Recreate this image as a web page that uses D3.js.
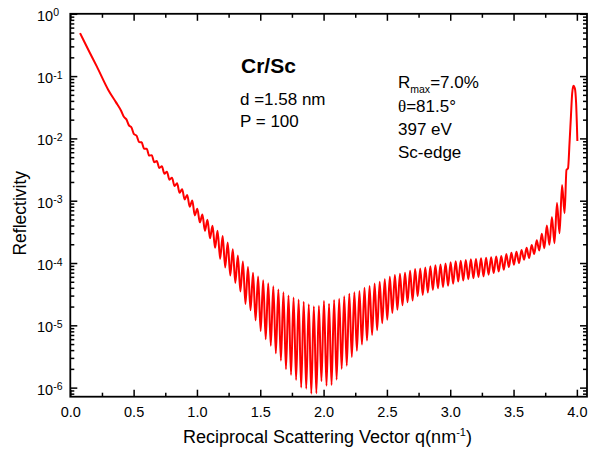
<!DOCTYPE html>
<html>
<head>
<meta charset="utf-8">
<script src="https://cdn.jsdelivr.net/npm/d3@7"></script>
<style>
  body { margin: 0; background: #fff; }
  svg { display: block; font-family: "Liberation Sans", Arial, sans-serif; }
</style>
</head>
<body>
<div id="chart"></div>
<script>
// smooth part before the fringes become visible
const leadQ = [0.077, 0.10, 0.15, 0.21, 0.30, 0.36];
const leadR = [0.49, 0.394, 0.246, 0.142, 0.060, 0.0382];

// Kiessig fringe maxima
const peakQ = [
  0.403, 0.443, 0.483, 0.523, 0.563, 0.603, 0.643, 0.683, 0.723, 0.763,
  0.803, 0.843, 0.883, 0.923, 0.963, 1.003, 1.043, 1.083, 1.123, 1.163,
  1.203, 1.243, 1.283, 1.323, 1.363, 1.403, 1.443, 1.483, 1.523, 1.563,
  1.603, 1.643, 1.683, 1.723, 1.763, 1.803, 1.843, 1.883, 1.923, 1.963,
  2.003, 2.043, 2.083, 2.123, 2.163, 2.203, 2.243, 2.283, 2.323, 2.363,
  2.403, 2.443, 2.483, 2.523, 2.563, 2.603, 2.643, 2.683, 2.723, 2.763,
  2.803, 2.843, 2.883, 2.923, 2.963, 3.003, 3.043, 3.083, 3.123, 3.163,
  3.203, 3.243, 3.283, 3.323, 3.363, 3.403, 3.443, 3.483, 3.523, 3.563,
  3.603, 3.643, 3.683, 3.723, 3.763, 3.803, 3.843, 3.883
];
const peakR = [
  0.0273, 0.0202, 0.0150, 0.0111, 0.00866, 0.00683, 0.00538, 0.00434, 0.00357, 0.00291,
  0.00234, 0.00190, 0.00153, 0.00124, 0.00101, 7.44e-4, 6.0e-4, 4.95e-4, 3.96e-4, 3.28e-4,
  2.72e-4, 2.13e-4, 1.67e-4, 1.32e-4, 1.06e-4, 8.6e-5, 7.0e-5, 6.06e-5, 5.3e-5, 4.72e-5,
  4.22e-5, 3.77e-5, 3.38e-5, 3.02e-5, 2.79e-5, 2.59e-5, 2.40e-5, 2.18e-5, 2.03e-5, 2.06e-5,
  2.47e-5, 2.22e-5, 2.55e-5, 2.66e-5, 2.92e-5, 3.22e-5, 3.38e-5, 3.55e-5, 4.0e-5, 4.27e-5,
  4.68e-5, 5.0e-5, 5.5e-5, 6.0e-5, 6.4e-5, 6.7e-5, 7.0e-5, 7.5e-5, 8.0e-5, 8.2e-5,
  8.5e-5, 8.9e-5, 9.25e-5, 9.5e-5, 9.85e-5, 1.03e-4, 1.065e-4, 1.09e-4, 1.12e-4, 1.15e-4,
  1.16e-4, 1.19e-4, 1.22e-4, 1.24e-4, 1.27e-4, 1.30e-4, 1.39e-4, 1.46e-4, 1.52e-4, 1.62e-4,
  1.75e-4, 1.94e-4, 2.32e-4, 2.96e-4, 4.0e-4, 5.5e-4, 9.2e-4, 1.79e-3
];

// fringe minima
const dipQ = [
  0.423, 0.463, 0.503, 0.543, 0.583, 0.623, 0.663, 0.703, 0.743, 0.783,
  0.823, 0.863, 0.903, 0.943, 0.983, 1.023, 1.063, 1.103, 1.143, 1.183,
  1.223, 1.263, 1.303, 1.343, 1.383, 1.423, 1.463, 1.503, 1.543, 1.583,
  1.623, 1.663, 1.703, 1.743, 1.783, 1.823, 1.863, 1.903, 1.943, 1.983,
  2.023, 2.063, 2.103, 2.143, 2.183, 2.223, 2.263, 2.303, 2.343, 2.383,
  2.423, 2.463, 2.503, 2.543, 2.583, 2.623, 2.663, 2.703, 2.743, 2.783,
  2.823, 2.863, 2.903, 2.943, 2.983, 3.023, 3.063, 3.103, 3.143, 3.183,
  3.223, 3.263, 3.303, 3.343, 3.383, 3.423, 3.463, 3.503, 3.543, 3.583,
  3.623, 3.663, 3.703, 3.743, 3.783, 3.823, 3.863, 3.903
];
const dipR = [
  0.0222, 0.0162, 0.0117, 0.00876, 0.00681, 0.0053, 0.00415, 0.00336, 0.00272, 0.00217,
  0.00172, 0.00134, 0.00105, 8.0e-4, 5.8e-4, 4.5e-4, 3.3e-4, 2.5e-4, 1.75e-4, 1.17e-4,
  8.5e-5, 6.3e-5, 4.8e-5, 3.5e-5, 2.2e-5, 1.75e-5, 1.2e-5, 8.1e-6, 6.0e-6, 4.7e-6,
  3.55e-6, 2.7e-6, 1.97e-6, 1.6e-6, 1.32e-6, 1.0e-6, 9.6e-7, 8.0e-7, 8.1e-7, 1.27e-6,
  1.07e-6, 1.1e-6, 1.34e-6, 2.0e-6, 2.25e-6, 3.1e-6, 3.9e-6, 4.9e-6, 5.7e-6, 7.0e-6,
  8.3e-6, 1.08e-5, 1.23e-5, 1.58e-5, 1.78e-5, 2.1e-5, 2.35e-5, 2.5e-5, 2.93e-5, 3.08e-5,
  3.37e-5, 3.7e-5, 3.94e-5, 4.1e-5, 4.3e-5, 4.64e-5, 5.05e-5, 5.24e-5, 5.5e-5, 5.7e-5,
  5.95e-5, 6.1e-5, 6.5e-5, 6.9e-5, 7.3e-5, 7.8e-5, 8.6e-5, 9.4e-5, 9.96e-5, 1.13e-4,
  1.2e-4, 1.4e-4, 1.59e-4, 1.73e-4, 1.96e-4, 2.08e-4, 3.0e-4, 6.3e-4
];

// first Bragg peak
const braggQ = [3.918, 3.930, 3.942, 3.953, 3.963, 3.973, 3.984, 3.994, 4.004];
const braggR = [3.12e-3, 3.3e-3, 8.4e-3, 0.0224, 0.053, 0.070, 0.064, 0.037, 0.0091];

const xTicks = [0, 0.5, 1.0, 1.5, 2.0, 2.5, 3.0, 3.5, 4.0];
const xMinorTicks = [0.25, 0.75, 1.25, 1.75, 2.25, 2.75, 3.25, 3.75];
const yDecades = [1e-6, 1e-5, 1e-4, 1e-3, 1e-2, 1e-1, 1];

const sampleLines = ["d =1.58 nm", "P = 100"];
const measureLines = ["397 eV", "Sc-edge"];

const width = 590, height = 452;
const margin = { top: 13.8, right: 3, bottom: 55.3, left: 70.3 };
const x0 = margin.left, x1 = width - margin.right;
const y0 = height - margin.bottom, y1 = margin.top;

const x = d3.scaleLinear().domain([0, 4.08]).range([x0, x1]);
const y = d3.scaleLog().domain([7.15e-7, 1]).range([y0, y1]);

const toPts = (qs, rs) => qs.map((q, i) => ({ q, r: rs[i] }));
const data = [
  ...toPts(leadQ, leadR),
  ...toPts(peakQ, peakR),
  ...toPts(dipQ, dipR),
  ...toPts(braggQ, braggR)
].sort((a, b) => a.q - b.q);

const svg = d3.select("#chart").append("svg")
  .attr("width", width)
  .attr("height", height);

// curve
svg.append("path")
  .datum(data)
  .attr("fill", "none")
  .attr("stroke", "#ff0000")
  .attr("stroke-width", 2)
  .attr("stroke-linejoin", "round")
  .attr("d", d3.line().x(d => x(d.q)).y(d => y(d.r)).curve(d3.curveMonotoneX));

// axes, ticks pointing inward on all four sides
const yMinor = y.ticks().filter(v => !yDecades.some(d => Math.abs(d - v) / d < 1e-6));

function styleAxis(g) {
  g.select(".domain").remove();
  g.selectAll(".tick line").attr("stroke", "#000").attr("stroke-width", 1.5);
}

svg.append("g").attr("transform", `translate(0,${y0})`)
  .call(d3.axisBottom(x).tickValues(xTicks).tickSize(-7).tickSizeOuter(0).tickPadding(10).tickFormat(d3.format(".1f")))
  .call(styleAxis)
  .call(g => g.selectAll("text").attr("font-size", 14.5).attr("font-family", "Liberation Sans, Arial").attr("fill", "#000"));
svg.append("g").attr("transform", `translate(0,${y0})`)
  .call(d3.axisBottom(x).tickValues(xMinorTicks).tickSize(-4).tickSizeOuter(0).tickFormat(""))
  .call(styleAxis);
svg.append("g").attr("transform", `translate(0,${y1})`)
  .call(d3.axisTop(x).tickValues(xTicks).tickSize(-7).tickSizeOuter(0).tickFormat(""))
  .call(styleAxis);
svg.append("g").attr("transform", `translate(0,${y1})`)
  .call(d3.axisTop(x).tickValues(xMinorTicks).tickSize(-4).tickSizeOuter(0).tickFormat(""))
  .call(styleAxis);

svg.append("g").attr("transform", `translate(${x0},0)`)
  .call(d3.axisLeft(y).tickValues(yDecades).tickSize(-7).tickSizeOuter(0).tickFormat(""))
  .call(styleAxis);
svg.append("g").attr("transform", `translate(${x0},0)`)
  .call(d3.axisLeft(y).tickValues(yMinor).tickSize(-4).tickSizeOuter(0).tickFormat(""))
  .call(styleAxis);
svg.append("g").attr("transform", `translate(${x1},0)`)
  .call(d3.axisRight(y).tickValues(yDecades).tickSize(-7).tickSizeOuter(0).tickFormat(""))
  .call(styleAxis);
svg.append("g").attr("transform", `translate(${x1},0)`)
  .call(d3.axisRight(y).tickValues(yMinor).tickSize(-4).tickSizeOuter(0).tickFormat(""))
  .call(styleAxis);

// y tick labels as 10^n
const yLab = svg.append("g").attr("font-size", 14.5).attr("fill", "#000")
  .selectAll("text").data(yDecades).join("text")
  .attr("x", 37)
  .attr("y", d => y(d) + 7);
yLab.append("tspan").text("10");
yLab.append("tspan").attr("font-size", 10.5).attr("dy", -4.5)
  .text(d => String(Math.round(Math.log10(d))));

// frame
svg.append("rect")
  .attr("x", x0).attr("y", y1)
  .attr("width", x1 - x0).attr("height", y0 - y1)
  .attr("fill", "none").attr("stroke", "#000").attr("stroke-width", 1.8);

// axis titles
const xt = svg.append("text").attr("x", 183).attr("y", 443).attr("font-size", 18).attr("fill", "#000");
xt.append("tspan").text("Reciprocal Scattering Vector q(nm");
xt.append("tspan").attr("font-size", 11).attr("dy", -7).text("-1");
xt.append("tspan").attr("dy", 7).text(")");

svg.append("text")
  .attr("transform", `translate(26,${(y0 + y1) / 2 + 8}) rotate(-90)`)
  .attr("text-anchor", "middle")
  .attr("font-size", 17.5)
  .attr("fill", "#000")
  .text("Reflectivity");

// annotations
svg.append("text").attr("x", 241).attr("y", 72.7)
  .attr("font-size", 21).attr("font-weight", "bold").attr("fill", "#000").text("Cr/Sc");

svg.append("g").attr("font-size", 17).attr("fill", "#000")
  .selectAll("text").data(sampleLines).join("text")
  .attr("x", 240).attr("y", (d, i) => 105 + i * 22)
  .text(d => d);

const rm = svg.append("text").attr("x", 398).attr("y", 88).attr("font-size", 17).attr("fill", "#000");
rm.append("tspan").text("R");
rm.append("tspan").attr("font-size", 10.5).attr("dy", 5).text("max");
rm.append("tspan").attr("dy", -5).text("=7.0%");

const th = svg.append("text").attr("x", 398).attr("y", 112).attr("font-size", 17).attr("fill", "#000");
th.append("tspan").attr("font-family", "Liberation Serif, serif").text("\u03b8");
th.append("tspan").text("=81.5\u00b0");

svg.append("g").attr("font-size", 17).attr("fill", "#000")
  .selectAll("text").data(measureLines).join("text")
  .attr("x", 398).attr("y", (d, i) => 135 + i * 22.5)
  .text(d => d);
</script>
</body>
</html>
